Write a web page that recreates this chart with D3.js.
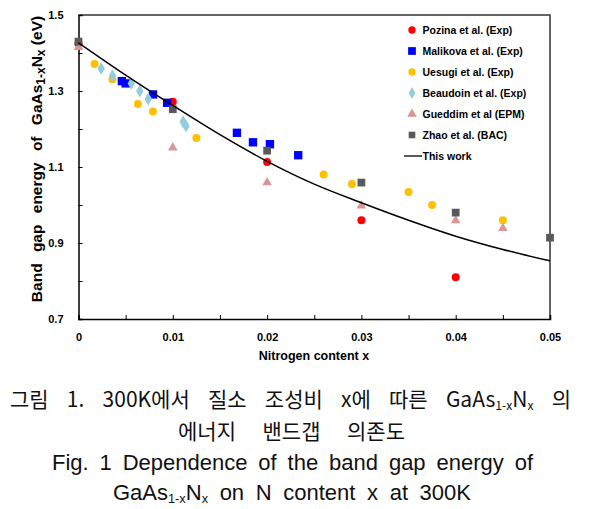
<!DOCTYPE html>
<html><head><meta charset="utf-8">
<script src="https://cdn.jsdelivr.net/npm/d3@7"></script>
<style>body{margin:0;background:#fff}</style>
</head><body>
<svg id="c" width="591" height="509"></svg>
<script>
// ---- data ----
const pozinaX = [0, 0.01, 0.02, 0.03, 0.04];
const pozinaY = [1.425, 1.272, 1.113, 0.96, 0.81];
const malikovaX = [0.0046, 0.005, 0.0079, 0.0094, 0.0168, 0.0185, 0.0203, 0.0233];
const malikovaY = [1.326, 1.32, 1.291, 1.269, 1.19, 1.165, 1.16, 1.131];
const uesugiX = [0.0017, 0.0036, 0.0063, 0.0079, 0.0125, 0.026, 0.029, 0.035, 0.0375, 0.045];
const uesugiY = [1.371, 1.331, 1.266, 1.246, 1.176, 1.08, 1.055, 1.034, 1.0, 0.96];
const beaudoinX = [0.0024, 0.0036, 0.0056, 0.0065, 0.0074, 0.0111, 0.0114];
const beaudoinY = [1.359, 1.34, 1.32, 1.30, 1.279, 1.219, 1.208];
const gueddimX = [0, 0.01, 0.02, 0.03, 0.04, 0.045];
const gueddimY = [1.415, 1.151, 1.059, 0.998, 0.959, 0.939];
const zhaoX = [0, 0.01, 0.02, 0.03, 0.04, 0.05];
const zhaoY = [1.43, 1.252, 1.143, 1.059, 0.98, 0.914];
const thisWorkX = [0, 0.005, 0.01, 0.015, 0.02, 0.025, 0.03, 0.035, 0.04, 0.045, 0.05];
const thisWorkY = [1.427, 1.342, 1.262, 1.185, 1.115, 1.055, 1.006, 0.96, 0.918, 0.883, 0.853];
const legendLabels = ["Pozina et al. (Exp)", "Malikova et al. (Exp)", "Uesugi et al. (Exp)",
  "Beaudoin et al. (Exp)", "Gueddim et al (EPM)", "Zhao et al. (BAC)", "This work"];
const xTickLabels = [0, 0.01, 0.02, 0.03, 0.04, 0.05];
const xMinorTicks = [0.005, 0.015, 0.025, 0.035, 0.045];
const yTickLabels = [0.7, 0.9, 1.1, 1.3, 1.5];
const yMinorTicks = [0.8, 1.0, 1.2, 1.4];

// ---- layout ----
const svg = d3.select("#c");
const L = 78.5, R = 550, T = 15, B = 319;
const x = d3.scaleLinear().domain([0, 0.05]).range([L, R]);
const y = d3.scaleLinear().domain([0.7, 1.5]).range([B, T]);
const font = "'Liberation Sans', Arial, sans-serif";

svg.append("rect").attr("width", 591).attr("height", 509).attr("fill", "#fff");

// frame top/right
svg.append("path").attr("d", `M${L},${T}H${R}V${B}`).attr("fill", "none")
  .attr("stroke", "#333").attr("stroke-width", 1.5);

// x axis
const xAxis = d3.axisBottom(x).tickValues(xTickLabels.concat(xMinorTicks))
  .tickSize(-4).tickPadding(14)
  .tickFormat(d => xTickLabels.includes(d) ? d3.format("")(d) : "");
const gx = svg.append("g").attr("transform", `translate(0,${B})`).call(xAxis);
gx.select(".domain").attr("stroke", "#000").attr("stroke-width", 1.5);
gx.selectAll("text").attr("font-family", font).attr("font-weight", "bold").attr("font-size", 11).attr("fill", "#000");

// y axis
const yAxis = d3.axisLeft(y).tickValues(yTickLabels.concat(yMinorTicks))
  .tickSize(-4).tickPadding(15)
  .tickFormat(d => yTickLabels.includes(d) ? d3.format(".1f")(d) : "");
const gy = svg.append("g").attr("transform", `translate(${L},0)`).call(yAxis);
gy.select(".domain").attr("stroke", "#000").attr("stroke-width", 1.5);
gy.selectAll("text").attr("font-family", font).attr("font-weight", "bold").attr("font-size", 11).attr("fill", "#000");

// axis titles
svg.append("text").attr("x", 314).attr("y", 360).attr("text-anchor", "middle")
  .attr("font-family", font).attr("font-weight", "bold").attr("font-size", 12.5)
  .text("Nitrogen content x");

const yt = svg.append("text").attr("transform", "translate(42,159) rotate(-90)")
  .attr("text-anchor", "middle").attr("font-family", font).attr("font-weight", "bold")
  .attr("font-size", 15.5).style("word-spacing", "7px");
yt.append("tspan").text("Band gap energy of GaAs");
yt.append("tspan").attr("font-size", 12).attr("dy", 3).text("1-x");
yt.append("tspan").attr("dy", -3).text("N");
yt.append("tspan").attr("font-size", 12).attr("dy", 3).text("x");
yt.append("tspan").attr("dy", -3).style("word-spacing", "0px").text(" (eV)");

// ---- marks ----
function circles(xs, ys, color) {
  svg.append("g").selectAll("circle").data(xs.map((d, i) => [d, ys[i]])).join("circle")
    .attr("cx", d => x(d[0])).attr("cy", d => y(d[1])).attr("r", 4).attr("fill", color);
}
function symbols(xs, ys, type, size, color) {
  const sym = d3.symbol().type(type).size(size);
  svg.append("g").selectAll("path").data(xs.map((d, i) => [d, ys[i]])).join("path")
    .attr("d", sym).attr("transform", d => `translate(${x(d[0])},${y(d[1])})`).attr("fill", color);
}
const colors = ["#ff0000", "#0000ff", "#ffc000", "#92cddc", "#d99694", "#595959"];
circles(pozinaX, pozinaY, colors[0]);
symbols(malikovaX, malikovaY, d3.symbolSquare, 70, colors[1]);
circles(uesugiX, uesugiY, colors[2]);
symbols(beaudoinX, beaudoinY, d3.symbolDiamond, 48, colors[3]);
symbols(gueddimX, gueddimY, d3.symbolTriangle, 40, colors[4]);
symbols(zhaoX, zhaoY, d3.symbolSquare, 60, colors[5]);

svg.append("path").datum(thisWorkX.map((d, i) => [d, thisWorkY[i]]))
  .attr("d", d3.line().x(d => x(d[0])).y(d => y(d[1])).curve(d3.curveMonotoneX))
  .attr("fill", "none").attr("stroke", "#000").attr("stroke-width", 1.5);

// ---- legend ----
const lg = svg.append("g");
const types = ["circle", d3.symbolSquare, "circle", d3.symbolDiamond, d3.symbolTriangle, d3.symbolSquare, "line"];
const sizes = [0, 60, 0, 40, 40, 44, 0];
legendLabels.forEach((lab, i) => {
  const cy = 30 + i * 21;
  const t = types[i];
  if (t === "circle") lg.append("circle").attr("cx", 412).attr("cy", cy).attr("r", 3.7).attr("fill", colors[i]);
  else if (t === "line") lg.append("line").attr("x1", 404).attr("x2", 422).attr("y1", cy).attr("y2", cy).attr("stroke", "#000").attr("stroke-width", 1.3);
  else lg.append("path").attr("d", d3.symbol().type(t).size(sizes[i])).attr("transform", `translate(412,${cy})`).attr("fill", colors[i]);
  lg.append("text").attr("x", 422.5).attr("y", cy).attr("dy", "0.36em")
    .attr("font-family", font).attr("font-weight", "bold").attr("font-size", 10.5).text(lab);
});

// ---- caption ----
const kfont = "'Noto Sans CJK KR', sans-serif";
const capFont = "'Liberation Sans', Arial, sans-serif";
// parts: [text, isSubscript]
function capLine(left, right, by, parts, fam, fs) {
  const t = svg.append("text").attr("x", left).attr("y", by)
    .attr("font-family", fam).attr("font-size", fs).attr("fill", "#111");
  let shifted = false;
  parts.forEach(([s, sub]) => {
    const ts = t.append("tspan").text(s);
    if (sub) { ts.attr("font-size", fs * 0.58); if (!shifted) { ts.attr("dy", 3); shifted = true; } }
    else if (shifted) { ts.attr("dy", -3); shifted = false; }
  });
  const nat = t.node().getComputedTextLength();
  const txt = parts.map(p => p[0]).join("");
  const nsp = (txt.match(/ /g) || []).length;
  if (nsp > 0) t.style("word-spacing", ((right - left - nat) / nsp) + "px");
  return t;
}
capLine(10, 571, 407, [["그림 1. 300K에서 질소 조성비 x에 따른 GaAs", 0], ["1-x", 1], ["N", 0], ["x", 1], [" 의", 0]], kfont, 21);
capLine(178, 405, 439, [["에너지 밴드갭 의존도", 0]], kfont, 21);
capLine(52, 533, 470, [["Fig. 1 Dependence of the band gap energy of", 0]], capFont, 22);
capLine(113, 471, 500, [["GaAs", 0], ["1-x", 1], ["N", 0], ["x", 1], [" on N content x at 300K", 0]], capFont, 22);
</script>
</body></html>
